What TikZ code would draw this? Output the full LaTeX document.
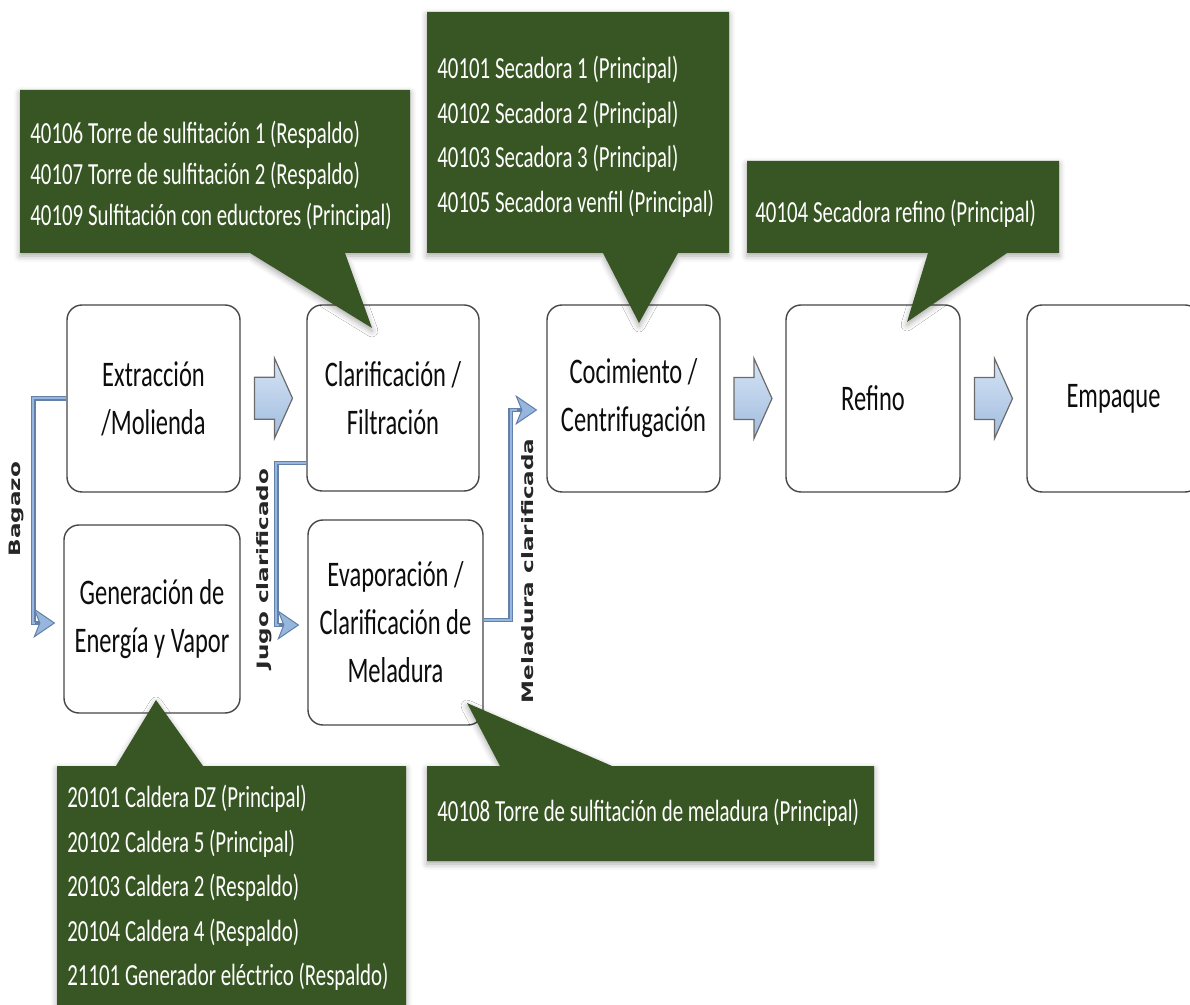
\documentclass[tikz,border=0pt]{standalone}
\usepackage{fontspec}
\setmainfont{Carlito}[FakeStretch=0.68]
\newfontfamily\lblfont{DejaVu Sans}[FakeStretch=1.47]
\usetikzlibrary{arrows.meta,calc,shadows.blur}
\definecolor{cgreen}{RGB}{56,86,35}
\definecolor{boxline}{RGB}{70,70,70}
\definecolor{conndark}{RGB}{98,128,168}
\definecolor{connlight}{RGB}{150,182,222}
\definecolor{baLight}{RGB}{214,228,245}
\definecolor{baDark}{RGB}{160,188,222}
\begin{document}
\begin{tikzpicture}[x=0.5pt,y=-0.5pt,
  pbox/.style={draw=boxline, line width=0.7pt, rounded corners=7.5pt, fill=white, align=center, inner sep=0pt, font=\fontsize{18pt}{24pt}\selectfont, text=black!95},
  callout/.style={fill=cgreen, blur shadow={shadow xshift=0pt, shadow yshift=-1.5pt, shadow blur radius=3pt, shadow opacity=35}},
  ctext/.style={text=white, align=left, anchor=west, inner sep=0pt, font=\fontsize{15.35pt}{22.25pt}\selectfont},
  barrow/.style={draw=boxline!80, line width=0.6pt, top color=baLight, bottom color=baDark},
  conn/.style={draw=conndark, line width=2.4pt, -{Stealth[length=11pt,width=15pt,inset=3pt,fill=connlight,color=conndark,line width=0.5pt]}, postaction={draw=connlight, line width=1pt, -, shorten >=10pt}},
  vlabel/.style={rotate=90, font=\lblfont\bfseries\fontsize{7.85pt}{9pt}\selectfont, text=black!85, inner sep=0pt}
]
\useasboundingbox (0,0) rectangle (1190,1005);
\clip (0,0) rectangle (1190,1005);

% process boxes
\node[pbox, minimum width=86.5pt, minimum height=93.5pt] (ext) at (153.5,398.5) {Extracción\\/Molienda};
\node[pbox, minimum width=88pt, minimum height=94pt] (gen) at (152,619) {Generación de\\Energía y Vapor};
\node[pbox, minimum width=86pt, minimum height=93pt] (clar) at (393,398) {Clarificación /\\Filtración};
\node[pbox, minimum width=87.5pt, minimum height=102.5pt] (evap) at (395.5,622.5) {Evaporación /\\Clarificación de\\Meladura};
\node[pbox, minimum width=86.5pt, minimum height=93.5pt] (coc) at (633.5,398.5) {Cocimiento /\\Centrifugación};
\node[pbox, minimum width=87pt, minimum height=93.5pt] (ref) at (873,398.5) {Refino};
\node[pbox, minimum width=86.5pt, minimum height=93.5pt] (emp) at (1113.5,398.5) {Empaque};

% block arrows
\coordinate (m1) at ($(ext.east)!0.5!(clar.west)$);
\coordinate (m2) at ($(coc.east)!0.5!(ref.west)$);
\coordinate (m3) at ($(ref.east)!0.5!(emp.west)$);
\foreach \m in {m1,m2,m3}{
  \draw[barrow, shift={(\m)}] (-19,-21) -- (1,-21) -- (1,-40) -- (19,0) -- (1,40) -- (1,21) -- (-19,21) -- cycle;
}

% connectors
\draw[conn] (ext.west) -- ++(-33,0) |- ($(gen.west)+(-8,4)$);
\draw[conn] ($(clar.west)+(0,65)$) -- ++(-30,0) |- ($(evap.west)+(-8,2.5)$);
\draw[conn] ($(evap.east)+(0,-2.5)$) -- ++(27,0) |- ($(coc.west)+(-9,11.5)$);

\node[vlabel] (lb1) at (16,509) {Bagazo};
\node[vlabel] (lb2) at (264,569) {Jugo clarificado};
\node[vlabel] (lb3) at (528,571) {Meladura clarificada};

% callouts
\path[callout] (20,90) -- (410,90) -- (410,253) -- (345,253) -- (372,328) -- (250,253) -- (20,253) -- cycle;
\path[callout] (427,12) -- (729,12) -- (729,253) -- (678,253) -- (639,323) -- (603,253) -- (427,253) -- cycle;
\path[callout] (747,161) -- (1059,161) -- (1059,253) -- (1007,253) -- (907,322) -- (928,253) -- (747,253) -- cycle;
\path[callout] (57,766) -- (116,766) -- (156,700) -- (203,766) -- (406,766) -- (406,1015) -- (57,1015) -- cycle;
\path[callout] (427,766) -- (500,766) -- (467,703) -- (612,766) -- (874,766) -- (874,861) -- (427,861) -- cycle;

\node[ctext, font=\fontsize{15.35pt}{20.5pt}\selectfont] (c1) at (30,176) {40106 Torre de sulfitación 1 (Respaldo)\\40107 Torre de sulfitación 2 (Respaldo)\\40109 Sulfitación con eductores (Principal)};
\node[ctext] (c2) at (437,136.5) {40101 Secadora 1 (Principal)\\40102 Secadora 2 (Principal)\\40103 Secadora 3 (Principal)\\40105 Secadora venfil (Principal)};
\node[ctext] (c3) at (755,214) {40104 Secadora refino (Principal)};
\node[ctext] (c4) at (67,888) {20101 Caldera DZ (Principal)\\20102 Caldera 5 (Principal)\\20103 Caldera 2 (Respaldo)\\20104 Caldera 4 (Respaldo)\\21101 Generador eléctrico (Respaldo)};
\node[ctext] (c5) at (437,813) {40108 Torre de sulfitación de meladura (Principal)};
\end{tikzpicture}
\end{document}
